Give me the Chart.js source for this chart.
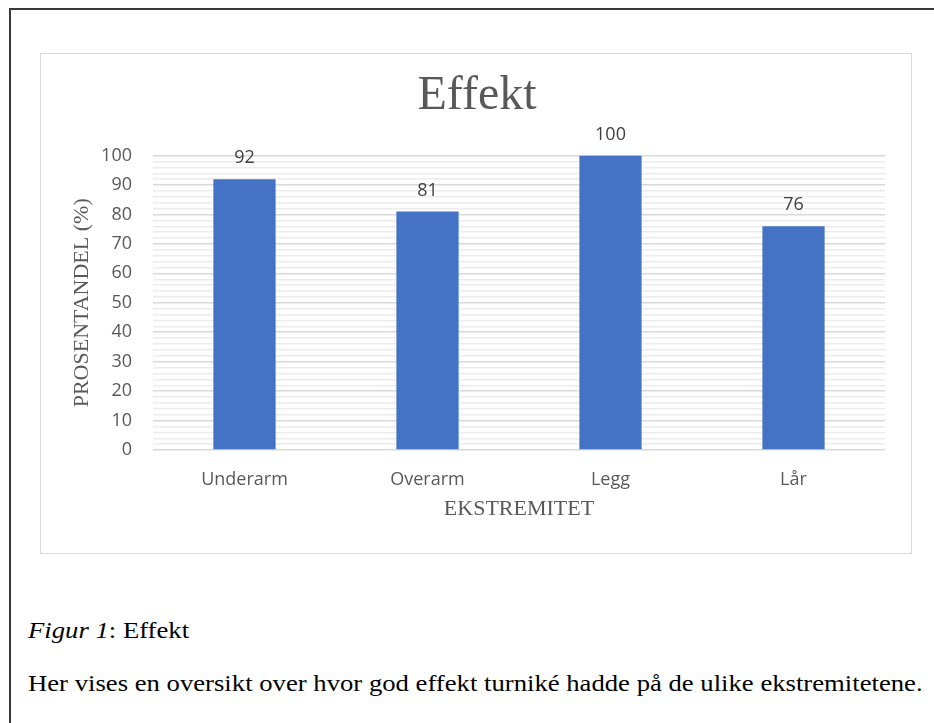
<!DOCTYPE html>
<html>
<head>
<meta charset="utf-8">
<script src="https://cdn.jsdelivr.net/npm/chart.js@4/dist/chart.umd.min.js"></script>
<style>
  html, body { margin: 0; padding: 0; background: #fff; }
  body { width: 934px; height: 723px; position: relative; overflow: hidden; }
  #frame {
    position: absolute; left: 9px; top: 8px; width: 940px; height: 740px;
    border-left: 2px solid #3a3a3a; border-top: 2px solid #3a3a3a;
  }
  #chart-box {
    position: absolute; left: 40px; top: 53px; width: 872px; height: 501px;
    box-sizing: border-box; border: 1.5px solid #d9d9d9;
  }
  #chart-box canvas { position: absolute; left: 0; top: 0; }
  .caption {
    position: absolute; left: 28px; font-family: "Liberation Serif", "Times New Roman", serif;
    font-size: 22.5px; line-height: 22.5px; color: #000; white-space: nowrap;
    transform: scaleX(1.186); transform-origin: left top;
  }
</style>
</head>
<body>
<div id="frame"></div>
<div id="chart-box"><canvas id="effektChart" width="869" height="498"></canvas></div>
<div class="caption" style="top: 620px;"><i>Figur 1</i>: Effekt</div>
<div class="caption" style="top: 673px;">Her vises en oversikt over hvor god effekt turniké hadde på de ulike ekstremitetene.</div>

<script>
// data
const categories = ["Underarm", "Overarm", "Legg", "Lår"];
const effektValues = [92, 81, 100, 76];
const yMin = 0;
const yMax = 100;
const yStep = 2; // minor gridlines every 2, labels every 10

const barColor = "#4472C4";
const textGray = "#595959";
const sansFont = "'Open Sans', 'Noto Sans', sans-serif";
const serifFont = "'Liberation Serif', 'Times New Roman', serif";

// draws the value above each bar (like Excel's "outside end" labels)
const valueLabels = {
  id: "valueLabels",
  afterDatasetsDraw(chart) {
    const ctx = chart.ctx;
    const meta = chart.getDatasetMeta(0);
    ctx.save();
    ctx.font = "18px " + sansFont;
    ctx.fillStyle = "#404040";
    ctx.textAlign = "center";
    ctx.textBaseline = "alphabetic";
    meta.data.forEach((bar, i) => {
      ctx.fillText(String(chart.data.datasets[0].data[i]), bar.x, bar.y - 16);
    });
    ctx.restore();
  },
};

document.addEventListener("DOMContentLoaded", function () {
  const ctx = document.getElementById("effektChart").getContext("2d");
  new Chart(ctx, {
    type: "bar",
    data: {
      labels: categories,
      datasets: [
        {
          label: "Effekt",
          data: effektValues,
          backgroundColor: barColor,
          borderWidth: 0,
          categoryPercentage: 1,
          barPercentage: 0.34,
        },
      ],
    },
    options: {
      responsive: false,
      animation: false,
      layout: {
        padding: { left: 28, right: 25, top: 0, bottom: 14 },
      },
      plugins: {
        legend: { display: false },
        tooltip: { enabled: false },
        title: {
          display: true,
          text: "Effekt",
          color: textGray,
          font: { family: serifFont, size: 48, weight: "normal" },
          padding: { top: 14, bottom: 30 },
        },
      },
      scales: {
        x: {
          grid: { display: false, drawTicks: false },
          border: { display: false },
          ticks: {
            color: textGray,
            padding: 19,
            font: { family: sansFont, size: 18 },
          },
          title: {
            display: true,
            text: "EKSTREMITET",
            color: textGray,
            font: { family: serifFont, size: 22 },
            padding: { top: 0, bottom: 16 },
          },
          afterFit: (scale) => {
            scale.height = 88;
          },
        },
        y: {
          min: yMin,
          max: yMax,
          border: { display: false },
          grid: {
            drawTicks: false,
            color: (c) => (c.tick.value % 10 === 0 ? "#d9d9d9" : "#ececec"),
            lineWidth: (c) => (c.tick.value % 10 === 0 ? 1.6 : 1.4),
          },
          ticks: {
            stepSize: yStep,
            autoSkip: false,
            color: textGray,
            padding: 21,
            font: { family: sansFont, size: 18 },
            callback: (v) => (v % 10 === 0 ? v : ""),
          },
          title: {
            display: true,
            text: "PROSENTANDEL (%)",
            color: textGray,
            font: { family: serifFont, size: 22 },
            padding: { top: 0, bottom: 8 },
          },
          afterFit: (scale) => {
            scale.width = 84;
          },
        },
      },
    },
    plugins: [valueLabels],
  });
});
</script>
</body>
</html>
